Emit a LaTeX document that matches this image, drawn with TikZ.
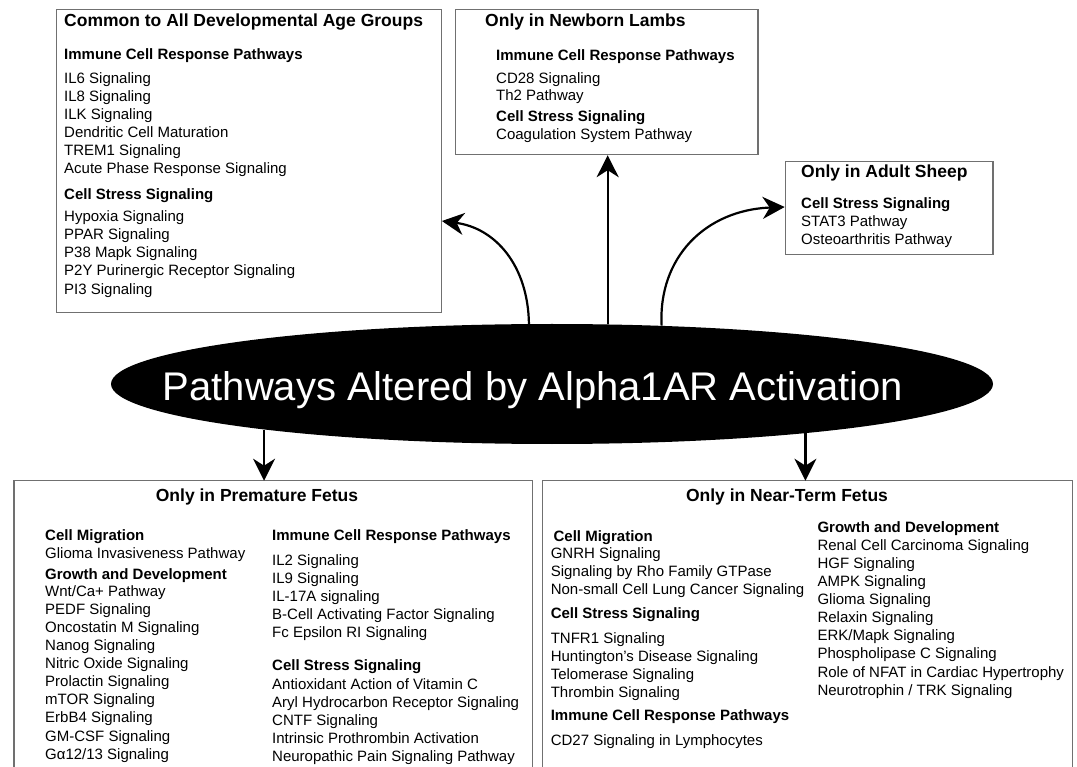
\documentclass[tikz,border=0pt]{standalone}
\usepackage{fontspec}
\setmainfont{Liberation Sans}
\usetikzlibrary{shapes.geometric,arrows.meta}
\definecolor{boxgray}{RGB}{112,112,112}
\begin{document}
\begin{tikzpicture}[x=1pt,y=-1pt,
  boxline/.style={draw=boxgray, line width=1.2pt},
  frame/.style={boxline, rectangle, inner sep=0pt, anchor=north west},
  openframe/.style={rectangle, inner sep=0pt, anchor=north west},
  ttl/.style={anchor=base west, inner sep=0pt, font=\fontsize{17.5}{21}\selectfont\bfseries},
  ctl/.style={anchor=base, inner sep=0pt, font=\fontsize{17.5}{21}\selectfont\bfseries},
  hd/.style={anchor=base west, inner sep=0pt, font=\fontsize{15}{18}\selectfont\bfseries},
  itm/.style={anchor=base west, inner sep=0pt, font=\fontsize{15}{18}\selectfont},
  arr/.style={line width=2.2pt, -{Stealth[length=22pt,width=22pt,inset=7pt]}},
]
\fill[white] (0,0) rectangle (1077,767);
\useasboundingbox (0,0) rectangle (1077,767);

% central ellipse
\node[ellipse, fill=black, minimum width=882pt, minimum height=120pt, inner sep=0pt] (ell) at (552,384) {};
\node[anchor=base, text=white, inner sep=0pt, font=\fontsize{40}{46}\selectfont] (elltxt) at (533,400) {Pathways Altered by Alpha1AR Activation};

% boxes
\node[frame, minimum width=384.7pt, minimum height=302.4pt] (common) at (56,9.3) {};
\node[frame, minimum width=302.6pt, minimum height=144.7pt] (newborn) at (454.7,9.3) {};
\node[frame, minimum width=207.6pt, minimum height=93.3pt] (adult) at (784.7,160.7) {};
\node[openframe, minimum width=518pt, minimum height=300pt] (prem) at (14,480.7) {};
\node[openframe, minimum width=529.5pt, minimum height=300pt] (near) at (542.3,480.7) {};
\draw[boxline] (prem.south west) |- (prem.north east) -- (prem.south east);
\draw[boxline] (near.south west) |- (near.north east) -- (near.south east);

% connectors
\coordinate (yL) at (0,221);
\coordinate (yR) at (0,207);
\draw[arr] (ell.111.8) .. controls (528,265) and (495,228) .. (common.east |- yL);
\draw[arr] (ell.28.8) .. controls (658,258) and (705,210) .. (adult.west |- yR);
\draw[arr] (ell.47.8) -- (ell.47.8 |- newborn.south);
\draw[arr] (ell.189.4) -- (ell.189.4 |- prem.north);
\draw[arr] (ell.-11.8) -- (ell.-11.8 |- near.north);

% Common box
\node[ttl] (c0) at (64,26.7) {Common to All Developmental Age Groups};
\node[hd] (c1) at (64,60) {Immune Cell Response Pathways};
\node[itm] (c2) at (64,84) {IL6 Signaling};
\node[itm] (c3) at (64,102) {IL8 Signaling};
\node[itm] (c4) at (64,120) {ILK Signaling};
\node[itm] (c5) at (64,138) {Dendritic Cell Maturation};
\node[itm] (c6) at (64,156) {TREM1 Signaling};
\node[itm] (c7) at (64,174) {Acute Phase Response Signaling};
\node[hd] (c8) at (64,199.3) {Cell Stress Signaling};
\node[itm] (c9) at (64,221.5) {Hypoxia Signaling};
\node[itm] (c10) at (64,239.7) {PPAR Signaling};
\node[itm] (c11) at (64,257.9) {P38 Mapk Signaling};
\node[itm] (c12) at (64,276) {P2Y Purinergic Receptor Signaling};
\node[itm] (c13) at (64,294.2) {PI3 Signaling};

% Newborn box
\node[ttl] (n0) at (485,26.7) {Only in Newborn Lambs};
\node[hd] (n1) at (496,61) {Immune Cell Response Pathways};
\node[itm] (n2) at (496,83.3) {CD28 Signaling};
\node[itm] (n3) at (496,101) {Th2 Pathway};
\node[hd] (n4) at (496,122) {Cell Stress Signaling};
\node[itm] (n5) at (496,140) {Coagulation System Pathway};

% Adult box
\node[ttl] (a0) at (801,177.5) {Only in Adult Sheep};
\node[hd] (a1) at (801,209) {Cell Stress Signaling};
\node[itm] (a2) at (801,226.5) {STAT3 Pathway};
\node[itm] (a3) at (801,244.5) {Osteoarthritis Pathway};

% Premature box
\node[ctl] (p0) at (257,501.7) {Only in Premature Fetus};
\node[hd] (p1) at (45,540.7) {Cell Migration};
\node[itm] (p2) at (45,558.5) {Glioma Invasiveness Pathway};
\node[hd] (p3) at (45,579) {Growth and Development};
\node[itm] (p4) at (45,596.5) {Wnt/Ca+ Pathway};
\node[itm] (p5) at (45,614.5) {PEDF Signaling};
\node[itm] (p6) at (45,632.5) {Oncostatin M Signaling};
\node[itm] (p7) at (45,650.5) {Nanog Signaling};
\node[itm] (p8) at (45,668.5) {Nitric Oxide Signaling};
\node[itm] (p9) at (45,686.5) {Prolactin Signaling};
\node[itm] (p10) at (45,704.7) {mTOR Signaling};
\node[itm] (p11) at (45,722.9) {ErbB4 Signaling};
\node[itm] (p12) at (45,741) {GM-CSF Signaling};
\node[itm] (p13) at (45,759.2) {Gα12/13 Signaling};
\node[hd] (p14) at (272,540.7) {Immune Cell Response Pathways};
\node[itm] (p15) at (272,565) {IL2 Signaling};
\node[itm] (p16) at (272,583.2) {IL9 Signaling};
\node[itm] (p17) at (272,601.4) {IL-17A signaling};
\node[itm] (p18) at (272,619.6) {B-Cell Activating Factor Signaling};
\node[itm] (p19) at (272,637.8) {Fc Epsilon RI Signaling};
\node[hd] (p20) at (272,670.7) {Cell Stress Signaling};
\node[itm] (p21) at (272,689.3) {Antioxidant Action of Vitamin C};
\node[itm] (p22) at (272,707.4) {Aryl Hydrocarbon Receptor Signaling};
\node[itm] (p23) at (272,725.6) {CNTF Signaling};
\node[itm] (p24) at (272,743.7) {Intrinsic Prothrombin Activation};
\node[itm] (p25) at (272,761.8) {Neuropathic Pain Signaling Pathway};

% Near-term box
\node[ctl] (t0) at (787,501.7) {Only in Near-Term Fetus};
\node[hd] (t1) at (553.4,541) {Cell Migration};
\node[itm] (t2) at (550.6,558.5) {GNRH Signaling};
\node[itm] (t3) at (550.6,576.6) {Signaling by Rho Family GTPase};
\node[itm] (t4) at (550.6,594.7) {Non-small Cell Lung Cancer Signaling};
\node[hd] (t5) at (550.6,618.3) {Cell Stress Signaling};
\node[itm] (t6) at (550.6,643.3) {TNFR1 Signaling};
\node[itm] (t7) at (550.6,661.5) {Huntington’s Disease Signaling};
\node[itm] (t8) at (550.6,679.6) {Telomerase Signaling};
\node[itm] (t9) at (550.6,697.7) {Thrombin Signaling};
\node[hd] (t10) at (550.6,720) {Immune Cell Response Pathways};
\node[itm] (t11) at (550.6,745) {CD27 Signaling in Lymphocytes};
\node[hd] (t12) at (817.3,532.3) {Growth and Development};
\node[itm] (t13) at (817.3,550.3) {Renal Cell Carcinoma Signaling};
\node[itm] (t14) at (817.3,568.4) {HGF Signaling};
\node[itm] (t15) at (817.3,586.5) {AMPK Signaling};
\node[itm] (t16) at (817.3,604.6) {Glioma Signaling};
\node[itm] (t17) at (817.3,622.7) {Relaxin Signaling};
\node[itm] (t18) at (817.3,640.8) {ERK/Mapk Signaling};
\node[itm] (t19) at (817.3,658.9) {Phospholipase C Signaling};
\node[itm] (t20) at (817.3,677) {Role of NFAT in Cardiac Hypertrophy};
\node[itm] (t21) at (817.3,695.1) {Neurotrophin / TRK Signaling};
\end{tikzpicture}
\end{document}
